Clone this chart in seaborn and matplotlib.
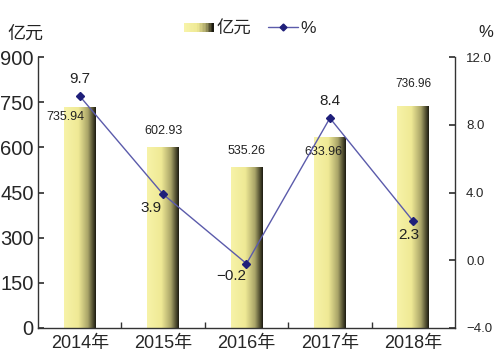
import numpy as np
import matplotlib
matplotlib.use("Agg")
import matplotlib.pyplot as plt
import seaborn as sns
from matplotlib.colors import LinearSegmentedColormap
from matplotlib.legend_handler import HandlerBase
from matplotlib.patches import Rectangle
from matplotlib.lines import Line2D

# -------------------------------------------------------------------
# Données
# -------------------------------------------------------------------

years = ["2014年", "2015年", "2016年", "2017年", "2018年"]
amount = [735.94, 602.93, 535.26, 633.96, 736.96]
growth = [9.7, 3.9, -0.2, 8.4, 2.3]

amount_labels = ["735.94", "602.93", "535.26", "633.96", "736.96"]
growth_labels = ["9.7", "3.9", "\u22120.2", "8.4", "2.3"]

# -------------------------------------------------------------------
# Style
# -------------------------------------------------------------------

sns.set_theme(style="white")
plt.rcParams["font.family"] = ["Liberation Sans", "Noto Sans CJK SC", "DejaVu Sans"]
plt.rcParams["axes.unicode_minus"] = True

bar_cmap = LinearSegmentedColormap.from_list(
    "bar", [(0.0, "#f7f3a8"), (0.45, "#efe995"), (0.75, "#a9a468"), (1.0, "#1b1a10")]
)
line_color = "#5b5bab"
marker_color = "#1f1f7a"


class GradientHandler(HandlerBase):
    def create_artists(self, legend, orig_handle, xdescent, ydescent,
                       width, height, fontsize, trans):
        n = 20
        arts = []
        for i in range(n):
            r = Rectangle((xdescent + width * i / n, ydescent + height * 0.15),
                          width / n + 0.3, height * 0.7,
                          facecolor=bar_cmap(i / (n - 1)), edgecolor="none",
                          transform=trans)
            arts.append(r)
        return arts


fig = plt.figure(figsize=(5.0, 3.64), dpi=100)
ax = fig.add_axes([0.076, 0.099, 0.834, 0.744])

sns.barplot(x=years, y=amount, ax=ax, width=0.38, color="#efe995", saturation=1)

# dégradé horizontal dans chaque barre
grad = np.linspace(0, 1, 256).reshape(1, -1)
for p in ax.patches:
    x0, y0 = p.get_x(), p.get_y()
    w, h = p.get_width(), p.get_height()
    p.set_facecolor("none")
    p.set_edgecolor("none")
    im = ax.imshow(grad, cmap=bar_cmap, aspect="auto",
                   extent=[x0, x0 + w, y0, y0 + h], zorder=2)
    im.set_clip_path(p)

ax.set_xlim(-0.5, 4.5)
ax.set_ylim(0, 900)
ax.set_yticks(np.arange(0, 901, 150))
ax.set_xticks(range(len(years)))
ax.set_xticklabels(years, fontsize=13)
ax.set_xticks(np.arange(0.5, 4.0, 1.0), minor=True)
ax.tick_params(axis="x", which="major", length=0, pad=5)
ax.tick_params(axis="x", which="minor", direction="in", length=4,
               color="#333333", bottom=True)
ax.tick_params(axis="y", direction="in", length=4, color="#333333",
               labelsize=14.5, pad=3, left=True)

for s in ["top", "right"]:
    ax.spines[s].set_visible(False)
for s in ["left", "bottom"]:
    ax.spines[s].set_color("#333333")
    ax.spines[s].set_linewidth(1.0)

# étiquettes des barres
offsets = [(-10, -12, "bottom"), (0, 7, "bottom"), (0, 7, "bottom"),
           (-5, -15, "bottom"), (0, 12, "bottom")]
for i, (v, lab) in enumerate(zip(amount, amount_labels)):
    dx, dy, va = offsets[i]
    ax.annotate(lab, (i, v), xytext=(dx, dy), textcoords="offset points",
                ha="center", va=va, fontsize=9 if i < 4 else 8.5,
                color="#222222", zorder=5)

# courbe du taux de croissance
ax2 = ax.twinx()
ax2.set_position(ax.get_position())
ax2.plot(range(len(years)), growth, color=line_color, lw=1.0, zorder=4)
ax2.plot(range(len(years)), growth, ls="none", marker="D", ms=4,
         color=marker_color, zorder=5)
ax2.set_ylim(-4, 12)
ax2.set_yticks([-4, 0, 4, 8, 12])
ax2.set_yticklabels(["\u22124.0", "0.0", "4.0", "8.0", "12.0"])
ax2.tick_params(axis="y", direction="in", length=4, color="#333333",
                labelsize=9.5, pad=8, right=True)
for s in ["top", "left", "bottom"]:
    ax2.spines[s].set_visible(False)
ax2.spines["right"].set_color("#333333")
ax2.spines["right"].set_linewidth(1.0)

g_offsets = [(0, 7, "bottom"), (-9, -5, "top"), (-11, -4, "top"),
             (0, 7, "bottom"), (-3, -5, "top")]
for i, (v, lab) in enumerate(zip(growth, growth_labels)):
    dx, dy, va = g_offsets[i]
    ax2.annotate(lab, (i, v), xytext=(dx, dy), textcoords="offset points",
                 ha="center", va=va, fontsize=11, color="#222222", zorder=6)

# titres des axes
fig.text(0.014, 0.905, "亿元", fontsize=13, ha="left", va="center", color="#222222")
fig.text(0.972, 0.91, "%", fontsize=12, ha="center", va="center", color="#222222")

# légende
h_bar = Rectangle((0, 0), 1, 1)
h_line = Line2D([], [], color=line_color, lw=1.0, marker="D", ms=3.5,
                markerfacecolor=marker_color, markeredgecolor=marker_color)
fig.legend([h_bar, h_line], ["亿元", "%"], loc="center",
           bbox_to_anchor=(0.5, 0.922), ncol=2, frameon=False,
           fontsize=12.5, handlelength=1.7, handletextpad=0.15, columnspacing=1.0,
           handler_map={Rectangle: GradientHandler()})

fig.savefig("out.png", dpi=100)
